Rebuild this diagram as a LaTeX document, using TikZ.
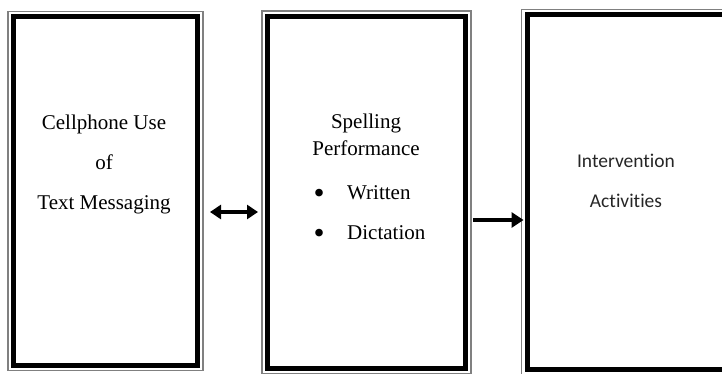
\documentclass[tikz,border=0pt]{standalone}
\usepackage{fontspec}
\setmainfont{Liberation Serif}
\newfontfamily\calfont[Ligatures=NoCommon]{Carlito}
\usetikzlibrary{arrows.meta}
\newcommand{\listdot}{\raisebox{-4pt}{\scalebox{1.5}{\textbullet}}\hspace{22.5pt}}

\begin{document}
\begin{tikzpicture}[x=1pt, y=-1pt,
  panel/.style={draw=black, line width=5pt, minimum width=#1, inner sep=0pt},
  rim/.style={draw=black!50, line width=1.5pt},
  serif/.style={font=\fontsize{21}{40}\selectfont, align=center, inner sep=0pt},
  biarrow/.style={line width=3.5pt, {Triangle[length=11pt,width=14pt]}-{Triangle[length=11pt,width=14pt]}},
  onearrow/.style={line width=4pt, -{Triangle[length=12pt,width=15pt]}}]
  \useasboundingbox (0,0) rectangle (722,374);
  \node[panel=184pt, minimum height=348pt] (cell) at (105.5,191) {};
  \node[panel=198pt, minimum height=352pt] (spell) at (366.5,192.5) {};
  \node[panel=198pt, minimum height=354pt] (act) at (626,192) {};
  \foreach \n in {cell,spell,act}
    \draw[rim] ([shift={(-3pt,3pt)}]\n.north west) rectangle ([shift={(3pt,-3pt)}]\n.south east);
  % texts
  \node[serif] (celltext) at (104,164) {Cellphone Use\\of\\Text Messaging};
  \node[serif, font=\fontsize{21}{27}\selectfont] (spelltext) at (366,135) {Spelling\\Performance};
  \node[serif, align=left, anchor=west] (spelllist) at (313.5,215) {\listdot Written\\\listdot Dictation};
  \node[serif, text=black!85, font=\calfont\fontsize{19.5}{40}\selectfont] (acttext) at (626,181) {Intervention\\Activities};
  % arrows
  \draw[biarrow] (cell.east |- 0,212) ++(10,0) -- ([xshift=-7pt]spell.west |- 0,212);
  \draw[onearrow] ([xshift=5pt]spell.east |- 0,220) -- ([xshift=-1pt]act.west |- 0,220);
\end{tikzpicture}
\end{document}
